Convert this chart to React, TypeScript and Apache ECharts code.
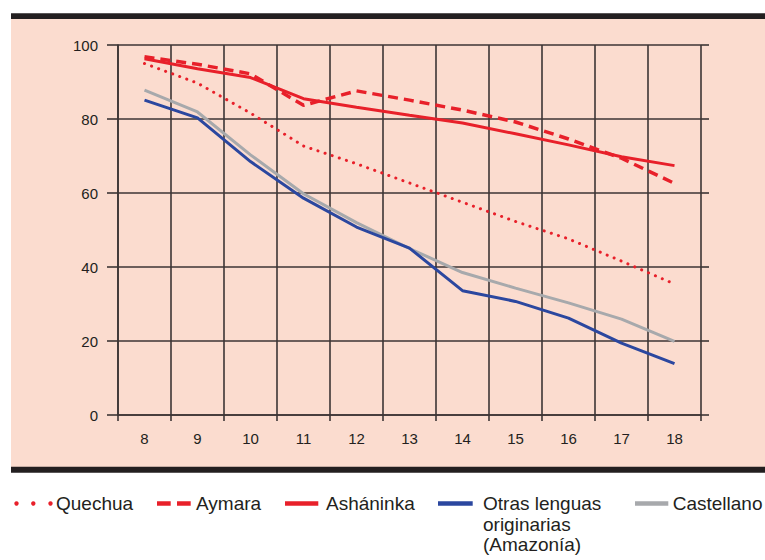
import React, { useEffect, useRef } from "react";
import * as echarts from "echarts";

const categories = ["8", "9", "10", "11", "12", "13", "14", "15", "16", "17", "18"];
const seriesNames = ["Quechua", "Aymara", "Asháninka", "Otras lenguas\noriginarias\n(Amazonía)", "Castellano"];
const quechua = [95, 89.7, 81.6, 72.7, 67.9, 62.7, 57.5, 52.3, 47.6, 41.6, 35.4];
const aymara = [96.8, 94.8, 92.2, 83.7, 87.6, 85.1, 82.4, 79.2, 74.6, 69.4, 62.6];
const ashaninka = [96.3, 93.6, 91.2, 85.5, 83.2, 81.0, 78.9, 76.0, 73.0, 69.8, 67.4];
const otras = [85.1, 80.3, 68.5, 58.6, 50.8, 45.1, 33.6, 30.7, 26.2, 19.4, 13.9];
const castellano = [87.8, 81.9, 70.3, 59.8, 52.0, 45.0, 38.5, 34.3, 30.3, 25.9, 19.9];

const RED = "#e8202a";
const BLUE = "#2b479f";
const GRAY = "#a7a9ac";
const GRID = "#3d3535";
const TEXT = "#231f20";
const FONT = "'Liberation Sans', Arial, Helvetica, sans-serif";

export default function App() {
  const ref = useRef<HTMLDivElement>(null);
  useEffect(() => {
    if (!ref.current) return;
    const chart = echarts.init(ref.current, undefined, { renderer: "svg" });
    const legendText = (x: number, y: number, text: string) => ({
      type: "text",
      x,
      y,
      z: 50,
      style: {
        text,
        fill: TEXT,
        font: `19px ${FONT}`,
        align: "left",
        verticalAlign: "middle",
        lineHeight: 20.7,
      },
    });
    const option: any = {
      animation: false,
      backgroundColor: "#ffffff",
      textStyle: { fontFamily: FONT },
      grid: { left: 118, right: 64, top: 45, bottom: 145, containLabel: false },
      xAxis: {
        type: "category",
        data: categories,
        boundaryGap: true,
        axisLine: { show: true, lineStyle: { color: GRID, width: 1.6 } },
        axisTick: { show: true, length: 6, lineStyle: { color: GRID, width: 1.6 } },
        axisLabel: { color: TEXT, fontSize: 15, margin: 16, fontFamily: FONT },
        splitLine: { show: true, lineStyle: { color: GRID, width: 1.6 } },
      },
      yAxis: [
        {
          type: "value",
          min: 0,
          max: 100,
          interval: 20,
          axisLine: { show: true, lineStyle: { color: GRID, width: 1.6 } },
          axisTick: { show: true, length: 11, lineStyle: { color: GRID, width: 1.6 } },
          axisLabel: { color: TEXT, fontSize: 15, margin: 20, fontFamily: FONT },
          splitLine: { show: true, lineStyle: { color: GRID, width: 1.6 } },
        },
        {
          type: "value",
          position: "right",
          min: 0,
          max: 100,
          interval: 20,
          axisLine: { show: false },
          axisTick: { show: true, length: 8, lineStyle: { color: GRID, width: 1.6 } },
          axisLabel: { show: false },
          splitLine: { show: false },
        },
      ],
      series: [
        {
          name: seriesNames[4],
          type: "line",
          data: castellano,
          symbol: "none",
          z: 3,
          lineStyle: { color: GRAY, width: 3 },
        },
        {
          name: seriesNames[3],
          type: "line",
          data: otras,
          symbol: "none",
          z: 4,
          lineStyle: { color: BLUE, width: 3 },
        },
        {
          name: seriesNames[0],
          type: "line",
          data: quechua,
          symbol: "none",
          z: 5,
          lineStyle: { color: RED, width: 3, type: [0.1, 7.4], cap: "round" },
        },
        {
          name: seriesNames[2],
          type: "line",
          data: ashaninka,
          symbol: "none",
          z: 6,
          lineStyle: { color: RED, width: 3 },
        },
        {
          name: seriesNames[1],
          type: "line",
          data: aymara,
          symbol: "none",
          z: 7,
          lineStyle: { color: RED, width: 3.5, type: [10, 6] },
        },
      ],
      graphic: [
        {
          type: "rect",
          z: -100,
          shape: { x: 11, y: 19, width: 760, height: 448 },
          style: { fill: "#fbdccf" },
        },
        {
          type: "rect",
          z: 100,
          shape: { x: 11, y: 13.3, width: 760, height: 5.7 },
          style: { fill: "#231f20" },
        },
        {
          type: "rect",
          z: 100,
          shape: { x: 11, y: 466.7, width: 760, height: 6 },
          style: { fill: "#231f20" },
        },
        // legend: Quechua (dots)
        { type: "circle", z: 50, shape: { cx: 16.5, cy: 503.5, r: 2.2 }, style: { fill: RED } },
        { type: "circle", z: 50, shape: { cx: 33.3, cy: 503.5, r: 2.2 }, style: { fill: RED } },
        { type: "circle", z: 50, shape: { cx: 50.5, cy: 503.5, r: 2.2 }, style: { fill: RED } },
        legendText(56, 503.5, seriesNames[0]),
        // Aymara (dashes)
        { type: "line", z: 50, shape: { x1: 157, y1: 503.5, x2: 170.7, y2: 503.5 }, style: { stroke: RED, lineWidth: 4.5 } },
        { type: "line", z: 50, shape: { x1: 177, y1: 503.5, x2: 190.7, y2: 503.5 }, style: { stroke: RED, lineWidth: 4.5 } },
        legendText(196, 503.5, seriesNames[1]),
        // Asháninka
        { type: "line", z: 50, shape: { x1: 285, y1: 503.5, x2: 318.3, y2: 503.5 }, style: { stroke: RED, lineWidth: 4.5 } },
        legendText(326, 503.5, seriesNames[2]),
        // Otras lenguas
        { type: "line", z: 50, shape: { x1: 438, y1: 503.5, x2: 472.7, y2: 503.5 }, style: { stroke: BLUE, lineWidth: 4.5 } },
        legendText(483, 524.2, seriesNames[3]),
        // Castellano
        { type: "line", z: 50, shape: { x1: 635, y1: 503.5, x2: 668.3, y2: 503.5 }, style: { stroke: GRAY, lineWidth: 4.5 } },
        legendText(672.7, 503.5, seriesNames[4]),
      ],
    };
    chart.setOption(option);
    return () => chart.dispose();
  }, []);
  return (
    <div
      ref={ref}
      style={{ position: "fixed", left: 0, top: 0, width: 765, height: 560 }}
    />
  );
}
